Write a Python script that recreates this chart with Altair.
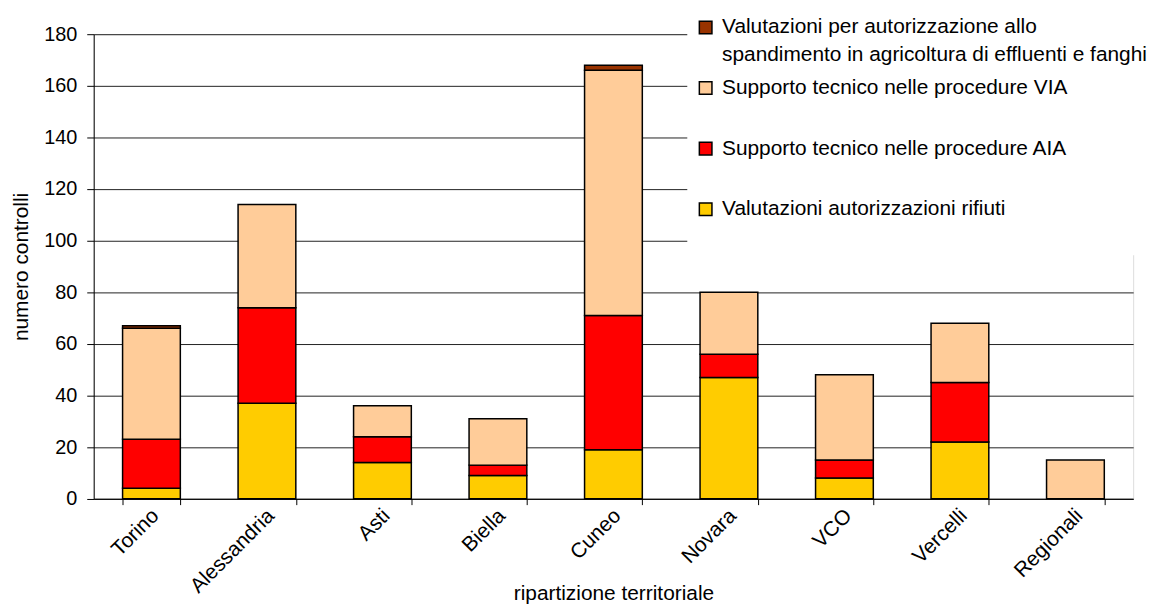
import altair as alt
import pandas as pd

categories = ["Torino", "Alessandria", "Asti", "Biella", "Cuneo", "Novara", "VCO", "Vercelli", "Regionali"]
series = [
    "Valutazioni per autorizzazione allo spandimento in agricoltura di effluenti e fanghi",
    "Supporto tecnico nelle procedure VIA",
    "Supporto tecnico nelle procedure AIA",
    "Valutazioni autorizzazioni rifiuti",
]
colors = ["#993300", "#FFCC99", "#FF0000", "#FFCC00"]

rifiuti = [4, 37, 14, 9, 19, 47, 8, 22, 0]
aia = [19, 37, 10, 4, 52, 9, 7, 23, 0]
via = [43, 40, 12, 18, 95, 24, 33, 23, 15]
spandimento = [1, 0, 0, 0, 2, 0, 0, 0, 0]

y_ticks = [0, 20, 40, 60, 80, 100, 120, 140, 160, 180]

values_by_series = {
    series[3]: rifiuti,
    series[2]: aia,
    series[1]: via,
    series[0]: spandimento,
}
stack_order = {series[3]: 0, series[2]: 1, series[1]: 2, series[0]: 3}

rows = []
for s, vals in values_by_series.items():
    for c, v in zip(categories, vals):
        rows.append({"zona": c, "serie": s, "valore": v, "ordine": stack_order[s]})
df = pd.DataFrame(rows)

label_expr = (
    "datum.label == '" + series[0] + "' ? "
    "['Valutazioni per autorizzazione allo', 'spandimento in agricoltura di effluenti e fanghi'] : "
    "[datum.label, '']"
)

FONT = "Liberation Sans"

bars = (
    alt.Chart(df)
    .transform_filter("datum.valore > 0")
    .mark_bar(stroke="black", strokeWidth=1.5)
    .encode(
        x=alt.X(
            "zona:N",
            sort=categories,
            scale=alt.Scale(paddingInner=0.5, paddingOuter=0.25),
            axis=alt.Axis(
                title="ripartizione territoriale",
                labelAngle=-45,
                labelFontSize=21,
                labelFont=FONT,
                labelColor="black",
                labelOffset=-4,
                labelPadding=0,
                tickBand="extent",
                tickSize=6,
                tickColor="black",
                domainColor="black",
                grid=False,
                titleFont=FONT,
                titleFontSize=21,
                titleFontWeight="normal",
                titleColor="black",
                titleY=102,
                titleBaseline="alphabetic",
            ),
        ),
        y=alt.Y(
            "valore:Q",
            stack="zero",
            scale=alt.Scale(domain=[0, 180], nice=False),
            axis=alt.Axis(
                title="numero controlli",
                values=y_ticks,
                labelFontSize=20,
                labelFont=FONT,
                labelColor="black",
                labelPadding=10,
                tickSize=7,
                tickColor="black",
                domainColor="black",
                gridColor="#222222",
                gridWidth=1,
                titleFont=FONT,
                titleFontSize=21,
                titleFontWeight="normal",
                titleColor="black",
                titlePadding=12,
            ),
        ),
        color=alt.Color(
            "serie:N",
            sort=series,
            scale=alt.Scale(domain=series, range=colors),
            legend=alt.Legend(
                title=None,
                orient="none",
                legendX=597.7,
                legendY=-25.3,
                padding=8,
                fillColor="white",
                symbolType="square",
                symbolSize=161,
                symbolStrokeColor="black",
                symbolStrokeWidth=1.5,
                labelFont=FONT,
                labelFontSize=21,
                labelColor="black",
                labelLimit=800,
                labelOffset=6,
                rowPadding=11,
                labelExpr=label_expr,
            ),
        ),
        order=alt.Order("ordine:Q", sort="ascending"),
    )
)

chart = (
    bars.properties(
        width=1046.7,
        height=467.7,
        autosize=alt.AutoSizeParams(type="none"),
        padding={"left": 86.3, "top": 24.3, "right": 25, "bottom": 106},
    )
    .configure_view(stroke="#888888", strokeWidth=1.5)
    .configure(style={"guide-label": {"lineHeight": 28}}, background="white")
)

chart.save("out.html", embed_options={"renderer": "svg", "actions": False})
